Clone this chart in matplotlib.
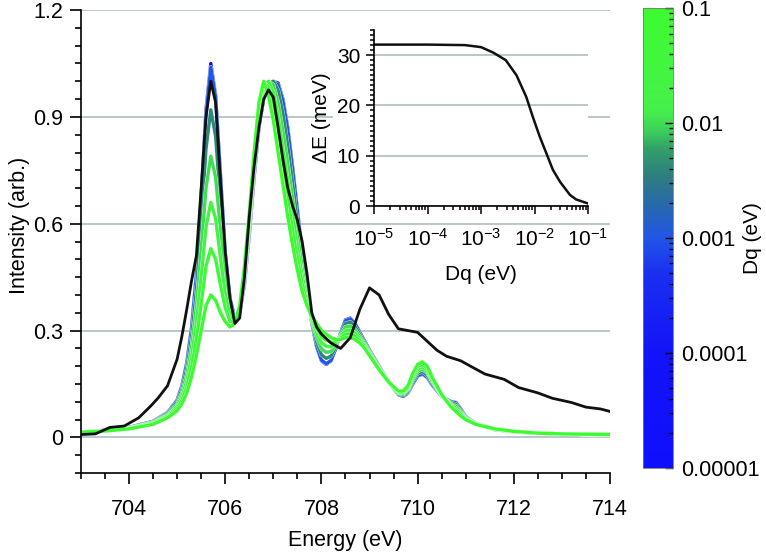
"""Fe L3-edge XAS: simulated spectra vs Dq (colour) with experiment (black), inset dE(Dq)."""
import matplotlib
matplotlib.use("Agg")
import matplotlib.pyplot as plt
import numpy as np
from matplotlib.colors import LinearSegmentedColormap, LogNorm
from matplotlib.cm import ScalarMappable
from matplotlib.patches import Rectangle
from matplotlib.ticker import MultipleLocator, LogLocator, NullFormatter
import matplotlib.patheffects as pe

plt.rcParams["font.family"] = ["Liberation Sans", "DejaVu Sans"]
plt.rcParams["mathtext.fontset"] = "custom"
plt.rcParams["mathtext.rm"] = "Liberation Sans"

# --- experiment (black) ---
E_EXP = [703.0, 703.3, 703.6, 703.9, 704.2, 704.45, 704.6, 704.8, 705.0, 705.1,
         705.2, 705.3, 705.4, 705.5, 705.6, 705.7, 705.8, 705.9, 706.0, 706.1,
         706.2, 706.3, 706.4, 706.5, 706.6, 706.7, 706.8, 706.9, 707.0, 707.1,
         707.2, 707.3, 707.4, 707.5, 707.6, 707.7, 707.8, 707.9, 708.0, 708.2,
         708.4, 708.6, 708.8, 709.0, 709.2, 709.4, 709.6, 709.8, 710.0, 710.2,
         710.4, 710.6, 710.9, 711.1, 711.4, 711.8, 712.1, 712.5, 712.8, 713.2,
         713.5, 713.8, 714.0]
I_EXP = [0.008, 0.01, 0.028, 0.032, 0.055, 0.088, 0.11, 0.145, 0.22, 0.285,
         0.36, 0.44, 0.51, 0.70, 0.90, 1.0, 0.94, 0.72, 0.52, 0.39,
         0.32, 0.335, 0.45, 0.62, 0.76, 0.87, 0.95, 0.976, 0.955, 0.87,
         0.78, 0.70, 0.65, 0.61, 0.55, 0.46, 0.35, 0.31, 0.29, 0.265,
         0.25, 0.28, 0.36, 0.42, 0.40, 0.345, 0.305, 0.30, 0.295, 0.27,
         0.245, 0.228, 0.215, 0.20, 0.178, 0.163, 0.14, 0.125, 0.11, 0.098,
         0.085, 0.08, 0.073]

# --- simulations, one per Dq (eV) ---
E_SIM = [703.0, 703.5, 704.0, 704.5, 704.8,
         705.0, 705.1, 705.2, 705.3, 705.4, 705.5, 705.6, 705.7, 705.8, 705.9,
         706.0, 706.1, 706.2, 706.3, 706.4, 706.5, 706.6, 706.7, 706.8, 706.9,
         707.0, 707.1, 707.2, 707.3, 707.4, 707.5, 707.6, 707.7, 707.8, 707.9,
         708.0, 708.1, 708.2, 708.3, 708.4, 708.5, 708.6, 708.7, 708.8, 708.9,
         709.0, 709.2, 709.4, 709.6,
         709.7, 709.8, 709.9,
         710.0, 710.1, 710.2, 710.3,
         710.5, 710.7, 710.8, 710.9,
         711.0, 711.2, 711.6, 712.0, 712.5, 713.0, 714.0]

DQ_VALUES = [1e-5, 1e-3, 4e-3, 1e-2, 2e-2, 4e-2, 1e-1]

I_DQ_1E5 = [0.015, 0.02, 0.028, 0.045, 0.07,
            0.105, 0.145, 0.21, 0.31, 0.46, 0.68, 0.92, 1.05, 0.96, 0.74,
            0.52, 0.39, 0.335, 0.35, 0.43, 0.57, 0.73, 0.87, 0.95, 0.99,
            1.0, 0.995, 0.95, 0.87, 0.76, 0.64, 0.52, 0.41, 0.32, 0.255,
            0.215, 0.205, 0.215, 0.25, 0.295, 0.33, 0.335, 0.32, 0.295, 0.27,
            0.245, 0.2, 0.155, 0.12,
            0.115, 0.125, 0.15,
            0.172, 0.178, 0.168, 0.148,
            0.115, 0.10, 0.098, 0.08,
            0.058, 0.04, 0.022, 0.016, 0.012, 0.01, 0.008]
I_DQ_1E3 = [0.015, 0.02, 0.028, 0.045, 0.069,
            0.104, 0.144, 0.208, 0.305, 0.455, 0.67, 0.905, 1.04, 0.955, 0.735,
            0.515, 0.388, 0.334, 0.35, 0.432, 0.572, 0.732, 0.872, 0.952, 0.992,
            1.0, 0.99, 0.945, 0.865, 0.755, 0.636, 0.518, 0.41, 0.321, 0.257,
            0.217, 0.207, 0.216, 0.25, 0.294, 0.328, 0.333, 0.319, 0.294, 0.27,
            0.245, 0.2, 0.155, 0.12,
            0.115, 0.126, 0.151,
            0.173, 0.179, 0.169, 0.148,
            0.115, 0.10, 0.097, 0.079,
            0.058, 0.04, 0.022, 0.016, 0.012, 0.01, 0.008]
I_DQ_4E3 = [0.015, 0.02, 0.027, 0.043, 0.067,
            0.099, 0.135, 0.193, 0.282, 0.414, 0.604, 0.81, 0.92, 0.845, 0.662,
            0.481, 0.374, 0.332, 0.354, 0.44, 0.582, 0.744, 0.884, 0.96, 0.995,
            1.0, 0.975, 0.91, 0.82, 0.716, 0.606, 0.498, 0.402, 0.324, 0.268,
            0.232, 0.222, 0.228, 0.255, 0.291, 0.32, 0.324, 0.311, 0.289, 0.266,
            0.242, 0.198, 0.155, 0.122,
            0.118, 0.129, 0.156,
            0.179, 0.185, 0.174, 0.152,
            0.116, 0.097, 0.093, 0.076,
            0.056, 0.039, 0.022, 0.016, 0.012, 0.01, 0.008]
I_DQ_1E2 = [0.015, 0.019, 0.026, 0.042, 0.064,
            0.093, 0.125, 0.176, 0.254, 0.368, 0.528, 0.70, 0.79, 0.73, 0.584,
            0.442, 0.358, 0.329, 0.358, 0.45, 0.594, 0.758, 0.898, 0.97, 1.0,
            0.99, 0.94, 0.86, 0.77, 0.672, 0.572, 0.476, 0.394, 0.328, 0.281,
            0.249, 0.239, 0.241, 0.26, 0.287, 0.31, 0.313, 0.302, 0.283, 0.262,
            0.239, 0.196, 0.155, 0.124,
            0.121, 0.133, 0.162,
            0.185, 0.192, 0.181, 0.157,
            0.117, 0.094, 0.088, 0.072,
            0.055, 0.039, 0.023, 0.016, 0.012, 0.01, 0.008]
I_DQ_2E2 = [0.015, 0.019, 0.026, 0.040, 0.061,
            0.087, 0.115, 0.159, 0.226, 0.322, 0.452, 0.59, 0.66, 0.615, 0.506,
            0.403, 0.342, 0.326, 0.362, 0.46, 0.606, 0.772, 0.912, 0.985, 1.0,
            0.97, 0.90, 0.81, 0.72, 0.628, 0.538, 0.454, 0.386, 0.332, 0.294,
            0.266, 0.256, 0.254, 0.265, 0.283, 0.30, 0.302, 0.293, 0.277, 0.258,
            0.236, 0.194, 0.155, 0.126,
            0.124, 0.137, 0.168,
            0.192, 0.198, 0.187, 0.161,
            0.118, 0.091, 0.082, 0.068,
            0.053, 0.038, 0.023, 0.017, 0.012, 0.01, 0.008]
I_DQ_4E2 = [0.015, 0.018, 0.025, 0.039, 0.058,
            0.081, 0.105, 0.142, 0.198, 0.276, 0.376, 0.48, 0.53, 0.50, 0.428,
            0.364, 0.326, 0.323, 0.366, 0.47, 0.618, 0.786, 0.93, 0.995, 0.985,
            0.93, 0.85, 0.76, 0.67, 0.584, 0.504, 0.432, 0.378, 0.336, 0.307,
            0.283, 0.273, 0.267, 0.27, 0.279, 0.29, 0.291, 0.284, 0.271, 0.254,
            0.233, 0.192, 0.155, 0.128,
            0.127, 0.141, 0.174,
            0.198, 0.205, 0.194, 0.166,
            0.119, 0.088, 0.077, 0.064,
            0.052, 0.038, 0.024, 0.017, 0.012, 0.01, 0.008]
I_DQ_1E1 = [0.015, 0.018, 0.024, 0.037, 0.055,
            0.075, 0.095, 0.125, 0.17, 0.23, 0.30, 0.37, 0.40, 0.385, 0.35,
            0.325, 0.31, 0.32, 0.37, 0.48, 0.63, 0.80, 0.94, 1.0, 0.96,
            0.89, 0.80, 0.71, 0.62, 0.54, 0.47, 0.41, 0.37, 0.34, 0.32,
            0.30, 0.29, 0.28, 0.275, 0.275, 0.28, 0.28, 0.275, 0.265, 0.25,
            0.23, 0.19, 0.155, 0.13,
            0.13, 0.145, 0.18,
            0.205, 0.212, 0.2, 0.17,
            0.12, 0.085, 0.072, 0.06,
            0.05, 0.037, 0.024, 0.017, 0.012, 0.01, 0.008]
SIM_CURVES = [I_DQ_1E5, I_DQ_1E3, I_DQ_4E3, I_DQ_1E2, I_DQ_2E2, I_DQ_4E2, I_DQ_1E1]

# --- inset: splitting vs Dq ---
DQ_INSET = [1e-5, 1e-4, 5e-4, 1e-3, 1.7e-3, 2.9e-3, 4.6e-3, 7e-3, 9.3e-3,
            1.25e-2, 1.66e-2, 2.2e-2, 3e-2, 4.6e-2, 6e-2, 1e-1]
DE_INSET = [32.1, 32.1, 32.0, 31.6, 30.5, 29.0, 26.0, 21.7, 17.7,
            13.8, 10.5, 7.2, 4.8, 2.2, 1.3, 0.5]

CBAR_TICKS = [1e-5, 1e-4, 1e-3, 1e-2, 1e-1]
CBAR_LABELS = ["0.00001", "0.0001", "0.001", "0.01", "0.1"]

GRID = "#b9c6ca"
FS = 15.5

# blue -> teal -> green, positions on the log10(Dq) axis (0 = 1e-5, 1 = 0.1)
cmap = LinearSegmentedColormap.from_list("dq", [
    (0.0, "#0f0fff"), (0.25, "#1313f8"), (0.425, "#1a30f0"), (0.5, "#2255e6"),
    (0.575, "#286aa8"), (0.636, "#2e7e80"), (0.695, "#32a068"),
    (0.739, "#3ed45a"), (0.779, "#46f04a"), (1.0, "#3cfc30")])
sm = ScalarMappable(norm=LogNorm(1e-5, 1e-1), cmap=cmap)

fig = plt.figure(figsize=(7.66, 5.55), dpi=100)
ax = fig.add_axes([0.1057, 0.1477, 0.6906, 0.8342])

for dq, ys in zip(DQ_VALUES, SIM_CURVES):
    ax.plot(E_SIM, ys, color=sm.to_rgba(dq), lw=2.4, solid_joinstyle="round",
            path_effects=[pe.Stroke(linewidth=2.8, foreground="white"), pe.Normal()])
ax.plot(E_EXP, I_EXP, color="#111111", lw=2.0, solid_joinstyle="round")

ax.set_xlim(703, 714)
ax.set_ylim(-0.1, 1.2)
ax.set_yticks([0, 0.3, 0.6, 0.9, 1.2])
ax.set_yticklabels(["0", "0.3", "0.6", "0.9", "1.2"])
ax.yaxis.set_minor_locator(MultipleLocator(0.05))
ax.set_xticks([704, 706, 708, 710, 712, 714])
ax.xaxis.set_minor_locator(MultipleLocator(0.5))
ax.tick_params(which="both", direction="out", width=1.2, labelsize=FS, colors="black")
ax.tick_params(which="major", length=8)
ax.tick_params(axis="x", which="major", pad=11)
ax.tick_params(axis="y", which="major", pad=5)
ax.tick_params(which="minor", length=4.5)
for s in ("top", "right"):
    ax.spines[s].set_visible(False)
for s in ("left", "bottom"):
    ax.spines[s].set_linewidth(1.2)
ax.set_axisbelow(True)
ax.yaxis.grid(True, color=GRID, lw=1.4)
ax.set_xlabel("Energy (eV)", fontsize=FS, labelpad=7)
ax.set_ylabel("Intensity (arb.)", fontsize=FS)
ax.yaxis.set_label_coords(-0.097, 0.535)

# white panel behind the inset and its labels
ax.add_patch(Rectangle((333 / 766, 1 - 215 / 555), (588 - 333) / 766, (215 - 22) / 555,
                       transform=fig.transFigure, facecolor="white", edgecolor="none",
                       zorder=1, clip_on=False))

# inset
ins = fig.add_axes([0.4883, 0.6288, 0.2794, 0.3171])
ins.plot(DQ_INSET, DE_INSET, color="#111111", lw=1.8)
ins.set_xscale("log")
ins.set_xlim(1e-5, 1e-1)
ins.set_ylim(0, 35)
ins.set_yticks([0, 10, 20, 30])
ins.yaxis.set_minor_locator(MultipleLocator(1))
ins.xaxis.set_major_locator(LogLocator(base=10, numticks=10))
ins.xaxis.set_minor_locator(LogLocator(base=10, subs=np.arange(2, 10), numticks=10))
ins.xaxis.set_minor_formatter(NullFormatter())
ins.tick_params(which="both", direction="out", width=1.1, labelsize=15)
ins.tick_params(which="major", length=6, pad=4)
ins.tick_params(axis="x", which="major", pad=10)
ins.tick_params(which="minor", length=3)
for s in ("top", "right"):
    ins.spines[s].set_visible(False)
for s in ("left", "bottom"):
    ins.spines[s].set_linewidth(1.2)
ins.set_axisbelow(True)
ins.yaxis.grid(True, color=GRID, lw=1.4)
ins.set_xlabel("Dq (eV)", fontsize=15, labelpad=11)
ins.set_ylabel("\u0394E (meV)", fontsize=15, labelpad=4)

# colour bar
cax = fig.add_axes([0.8394, 0.1568, 0.0392, 0.8288])
cb = fig.colorbar(sm, cax=cax)
cb.set_ticks(CBAR_TICKS)
cb.set_ticklabels(CBAR_LABELS)
cax.yaxis.set_minor_locator(LogLocator(base=10, subs=np.arange(2, 10), numticks=10))
cax.yaxis.set_minor_formatter(NullFormatter())
cax.tick_params(which="both", direction="in", right=True, width=1.0, labelsize=FS)
cax.tick_params(which="major", length=6, pad=6)
cax.tick_params(which="minor", length=3)
cb.outline.set_edgecolor("#777777")
cb.outline.set_linewidth(0.6)
fig.text(753 / 766, 1 - 238 / 555, "Dq (eV)", rotation=90, ha="center", va="center",
         fontsize=15)

fig.savefig("out.png", dpi=100)
